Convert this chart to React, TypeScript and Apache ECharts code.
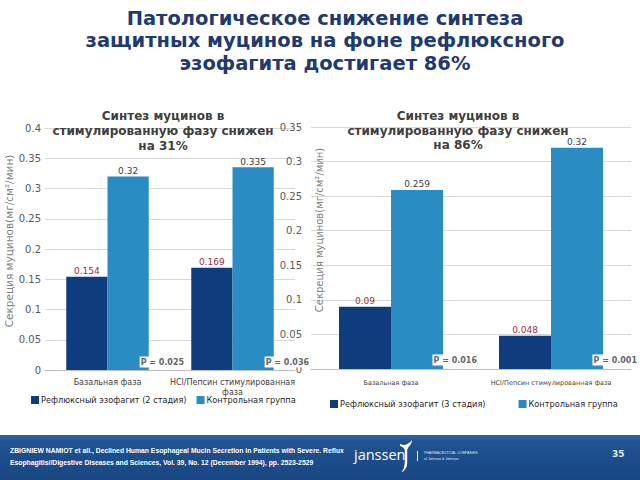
import React, { useEffect, useRef } from "react";
import * as echarts from "echarts";

const mainTitle = "Патологическое снижение синтеза\nзащитных муцинов на фоне рефлюксного\nэзофагита достигает 86%";
const leftTitle = "Синтез муцинов в\nстимулированную фазу снижен\nна 31%";
const rightTitle = "Синтез муцинов в\nстимулированную фазу снижен\nна 86%";
const categories = ["Базальная фаза", "HCl/Пепсин стимулированная фаза"];
const leftReflux = [0.154, 0.169];
const leftControl = [0.32, 0.335];
const rightReflux = [0.09, 0.048];
const rightControl = [0.259, 0.32];
const leftP = ["P = 0.025", "P = 0.036"];
const rightP = ["P = 0.016", "P = 0.001"];
const leftRefluxName = "Рефлюксный эзофагит (2 стадия)";
const rightRefluxName = "Рефлюксный эзофагит (3 стадия)";
const controlName = "Контрольная группа";
const yName = "Секреция муцинов(мг/см²/мин)";
const leftYMax = 0.4;
const rightYMax = 0.35;
const yInterval = 0.05;
const footerLines = [
  "ZBIGNIEW NAMIOT et all., Declined Human Esophageal Mucin Secretion in Patients with Severe. Reflux",
  "Esophagitis//Digestive Diseases and Sciences, Vol. 39, No. 12 (December 1994), pp. 2523-2529",
];
const pageNumber = "35";

const DARK = "#0f3c7c";
const LIGHT = "#2b8cc4";
const FONT = "DejaVu Sans";

echarts.graphic.registerShape(
  "jlogo",
  echarts.graphic.extendPath(
    "M0 4 Q7 8 15 0 L14 4 Q10 8 9 10 L9 24 Q9 31 2 34 Q6 29 6 24 L6 10 Q4 7 0 6 Z",
    {}
  )
);

function pMark(values: string[], distance: number, dy: number) {
  return {
    symbol: "circle",
    symbolSize: 1,
    itemStyle: { color: "rgba(0,0,0,0)" },
    label: {
      show: true,
      position: "right",
      distance,
      offset: [0, dy],
      formatter: (p: any) => p.name,
      backgroundColor: "#ffffff",
      padding: [2, 1, 1, 1],
      color: "#666666",
      fontFamily: FONT,
      fontWeight: "bold",
      fontSize: 8,
    },
    data: values.map((v, i) => ({ name: v, coord: [i, 0] })),
  };
}

export default function App() {
  const ref = useRef<HTMLDivElement>(null);
  useEffect(() => {
    if (!ref.current) return;
    const chart = echarts.init(ref.current, undefined, { renderer: "svg" });
    const axisLabelY = { color: "#595959", fontSize: 10, fontFamily: FONT };
    const splitLine = { show: true, lineStyle: { color: "#d9d9d9", width: 1 } };
    const barLabel = (color: string) => ({
      show: true,
      position: "top",
      distance: 1,
      color,
      fontSize: 9,
      fontFamily: FONT,
    });
    chart.setOption({
      animation: false,
      backgroundColor: "#ffffff",
      title: [
        {
          text: mainTitle,
          left: 320,
          top: 2,
          textAlign: "center",
          textStyle: { color: "#1f3a6e", fontSize: 19.5, fontWeight: "bold", fontFamily: FONT, lineHeight: 22.5 },
        },
        {
          text: leftTitle,
          left: 158,
          top: 103,
          textAlign: "center",
          textStyle: { color: "#404040", fontSize: 12, fontWeight: "bold", fontFamily: FONT, lineHeight: 15 },
        },
        {
          text: rightTitle,
          left: 453,
          top: 104,
          textAlign: "center",
          textStyle: { color: "#404040", fontSize: 12, fontWeight: "bold", fontFamily: FONT, lineHeight: 14.5 },
        },
      ],
      legend: [
        {
          data: [leftRefluxName, controlName],
          left: 26,
          top: 391,
          itemWidth: 8,
          itemHeight: 8,
          itemGap: 10,
          icon: "rect",
          textStyle: { color: "#262626", fontSize: 8.2, fontFamily: FONT, padding: [0, 0, 0, -3] },
          selectedMode: false,
        },
        {
          data: [rightRefluxName, controlName],
          left: 325,
          top: 395,
          itemWidth: 8,
          itemHeight: 8,
          itemGap: 33,
          icon: "rect",
          textStyle: { color: "#262626", fontSize: 8.2, fontFamily: FONT, padding: [0, 0, 0, -3] },
          selectedMode: false,
        },
      ],
      grid: [
        { left: 45, right: 345, top: 128, bottom: 110 },
        { left: 311, right: 9, top: 127, bottom: 111 },
      ],
      xAxis: [
        {
          type: "category",
          gridIndex: 0,
          data: categories,
          axisTick: { show: false },
          axisLine: { lineStyle: { color: "#bfbfbf" } },
          axisLabel: {
            color: "#404040",
            fontSize: 8,
            fontFamily: FONT,
            lineHeight: 10,
            margin: 7,
            interval: 0,
            formatter: (v: string) => (v.length > 20 ? v.replace(/ (\S+)$/, "\n$1") : v),
          },
        },
        {
          type: "category",
          gridIndex: 1,
          data: categories,
          axisTick: { show: false },
          axisLine: { lineStyle: { color: "#bfbfbf" } },
          axisLabel: { color: "#404040", fontSize: 6.5, fontFamily: FONT, margin: 10, interval: 0 },
        },
      ],
      yAxis: [
        {
          type: "value",
          gridIndex: 0,
          min: 0,
          max: leftYMax,
          interval: yInterval,
          axisLabel: { ...axisLabelY, margin: 4 },
          splitLine,
          name: yName,
          nameLocation: "middle",
          nameGap: 31,
          nameTextStyle: { color: "#7f7f7f", fontSize: 10.5, fontFamily: FONT, padding: [0, 0, 0, 16] },
        },
        {
          type: "value",
          gridIndex: 1,
          min: 0,
          max: rightYMax,
          interval: yInterval,
          axisLabel: { ...axisLabelY, margin: 9 },
          splitLine,
          name: yName,
          nameLocation: "middle",
          nameGap: -13,
          nameTextStyle: { color: "#7f7f7f", fontSize: 10, fontFamily: FONT, padding: [0, 0, 0, 36] },
        },
      ],
      series: [
        {
          name: leftRefluxName,
          type: "bar",
          xAxisIndex: 0,
          yAxisIndex: 0,
          data: leftReflux,
          barWidth: "33%",
          barGap: "0%",
          itemStyle: { color: DARK },
          label: barLabel("#9b2d3a"),
        },
        {
          name: controlName,
          type: "bar",
          xAxisIndex: 0,
          yAxisIndex: 0,
          data: leftControl,
          barWidth: "33%",
          barGap: "0%",
          itemStyle: { color: LIGHT },
          label: barLabel("#404040"),
          markPoint: pMark(leftP, 11, -8),
        },
        {
          name: rightRefluxName,
          type: "bar",
          xAxisIndex: 1,
          yAxisIndex: 1,
          data: rightReflux,
          barWidth: "32.5%",
          barGap: "0%",
          itemStyle: { color: DARK },
          label: barLabel("#9b2d3a"),
        },
        {
          name: controlName,
          type: "bar",
          xAxisIndex: 1,
          yAxisIndex: 1,
          data: rightControl,
          barWidth: "32.5%",
          barGap: "0%",
          itemStyle: { color: LIGHT },
          label: barLabel("#404040"),
          markPoint: pMark(rightP, 15, -9),
        },
      ],
      graphic: [
        {
          type: "rect",
          left: 0,
          top: 435,
          shape: { width: 640, height: 45 },
          style: {
            fill: new echarts.graphic.LinearGradient(0, 0, 0, 1, [
              { offset: 0, color: "#2f64a6" },
              { offset: 0.15, color: "#1f5292" },
              { offset: 1, color: "#184682" },
            ]),
          },
          silent: true,
        },
        {
          type: "text",
          left: 10,
          top: 444,
          style: {
            text: footerLines.join("\n"),
            fill: "#ffffff",
            fontSize: 6.8,
            fontWeight: "bold",
            fontFamily: "Liberation Sans",
            lineHeight: 12,
          },
          silent: true,
        },
        {
          type: "text",
          left: 354,
          top: 447,
          style: { text: "janssen", fill: "#ffffff", fontSize: 14.5, fontFamily: "Open Sans" },
          silent: true,
        },
        {
          type: "jlogo",
          x: 400,
          y: 440,
          scaleX: 0.8,
          scaleY: 0.95,
          style: { fill: "#ffffff" },
          silent: true,
        },
        {
          type: "rect",
          left: 417,
          top: 451,
          shape: { width: 1, height: 10 },
          style: { fill: "#ffffff" },
          silent: true,
        },
        {
          type: "text",
          left: 424,
          top: 450,
          style: {
            text: "PHARMACEUTICAL COMPANIES\nof Johnson & Johnson",
            fill: "#dfe8f3",
            fontSize: 3.5,
            fontFamily: "Liberation Sans",
            lineHeight: 6,
          },
          silent: true,
        },
        {
          type: "text",
          left: 612,
          top: 449,
          style: { text: pageNumber, fill: "#dfe8f3", fontSize: 9, fontWeight: "bold", fontFamily: FONT },
          silent: true,
        },
      ],
    });
    return () => chart.dispose();
  }, []);
  return <div ref={ref} style={{ position: "fixed", left: 0, top: 0, width: 640, height: 480 }} />;
}
